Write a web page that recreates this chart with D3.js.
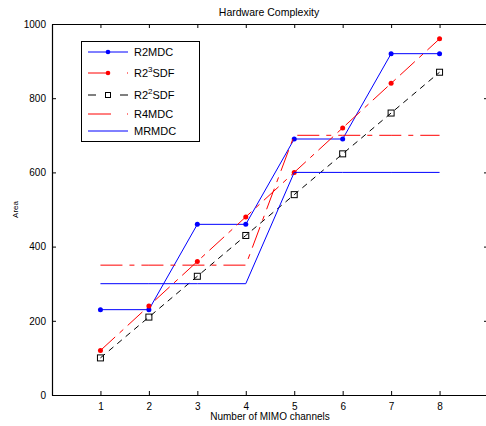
<!DOCTYPE html>
<html>
<head>
<meta charset="utf-8">
<script src="https://cdn.jsdelivr.net/npm/d3@7"></script>
<style>
body { margin: 0; background: #fff; }
svg { font-family: "Liberation Sans", Arial, sans-serif; }
</style>
</head>
<body>
<script>
var width = 486,
    height = 426;

// data
var channels = [1, 2, 3, 4, 5, 6, 7, 8];
var r2mdc   = [230, 230, 460, 460, 690, 690, 920, 920];
var r23sdf  = [120, 240, 360, 480, 600, 720, 840, 960];
var r22sdf  = [100, 210, 320, 430, 540, 650, 760, 870];
var r4mdc   = [350, 350, 350, 350, 700, 700, 700, 700];
var mrmdc   = [300, 300, 300, 300, 600, 600, 600, 600];
var yTicks  = [0, 200, 400, 600, 800, 1000];

var series = [
    {name: "R2MDC", sup: null, values: r2mdc, color: "#0000ff", dash: null, marker: "dot", legDash: null},
    {name: "R2", sup: "3", rest: "SDF", values: r23sdf, color: "#ff0000", dash: "20,6,5,6", marker: "dot", legDash: "22,17,1,40"},
    {name: "R2", sup: "2", rest: "SDF", values: r22sdf, color: "#000000", dash: "6,5", marker: "square", legDash: "8,24,8,40"},
    {name: "R4MDC", sup: null, values: r4mdc, color: "#ff0000", dash: "22,7,5,7", marker: null, legDash: "23,16,1,40"},
    {name: "MRMDC", sup: null, values: mrmdc, color: "#0000ff", dash: null, marker: null, legDash: null}
];

// plot box edges (the right edge falls just outside the window)
var pLeft = 52, pRight = 488, pTop = 24, pBottom = 395;

var svg = d3.select("body").append("svg")
    .attr("width", width)
    .attr("height", height)

var x = d3.scaleLinear().domain([0, 9]).range([pLeft, pRight]);
var y = d3.scaleLinear().domain([0, 1000]).range([pBottom, pTop]);

/* axes, MATLAB style: ticks pointing inward, box all round */
svg.append("g")
    .attr("transform", "translate(0," + pBottom + ")")
    .call(d3.axisBottom(x).tickValues(channels).tickSize(-4).tickPadding(8).tickSizeOuter(0))
    .call(function (g) { g.selectAll("text").attr("font-size", 10).attr("fill", "#000").attr("font-family", null); });

svg.append("g")
    .attr("transform", "translate(0," + pTop + ")")
    .call(d3.axisTop(x).tickValues(channels).tickSize(-4).tickFormat("").tickSizeOuter(0));

svg.append("g")
    .attr("transform", "translate(" + pLeft + ",0)")
    .call(d3.axisLeft(y).tickValues(yTicks).tickSize(-4).tickPadding(6).tickSizeOuter(0).tickFormat(d3.format("d")))
    .call(function (g) { g.selectAll("text").attr("font-size", 10).attr("fill", "#000").attr("font-family", null); });

svg.append("g")
    .attr("transform", "translate(" + pRight + ",0)")
    .call(d3.axisRight(y).tickValues(yTicks).tickSize(-4).tickFormat("").tickSizeOuter(0));

svg.selectAll(".domain").attr("stroke", "#000").attr("stroke-width", 1.2);
svg.selectAll(".tick line").attr("stroke", "#000");

/* title and labels */
svg.append("text")
    .attr("x", (pLeft + pRight) / 2 - 1)
    .attr("y", 16)
    .attr("text-anchor", "middle")
    .attr("font-size", 10.5)
    .text("Hardware Complexity")

svg.append("text")
    .attr("x", (pLeft + pRight) / 2)
    .attr("y", 420)
    .attr("text-anchor", "middle")
    .attr("font-size", 10)
    .text("Number of MIMO channels")

svg.append("text")
    .attr("transform", "translate(18," + ((pTop + pBottom) / 2) + ") rotate(-90)")
    .attr("text-anchor", "middle")
    .attr("font-size", 8)
    .text("Area")

/* lines */
var line = d3.line()
    .x(function (d, i) { return x(channels[i]) })
    .y(function (d) { return y(d) })

var plot = svg.append("g")

series.forEach(function (s) {
    plot.append("path")
        .datum(s.values)
        .attr("d", line)
        .attr("fill", "none")
        .attr("stroke", s.color)
        .attr("stroke-width", 1)
        .attr("stroke-dasharray", s.dash)

    if (s.marker === "dot") {
        plot.selectAll(null)
            .data(s.values)
            .enter().append("circle")
            .attr("cx", function (d, i) { return x(channels[i]) })
            .attr("cy", function (d) { return y(d) })
            .attr("r", 2.5)
            .attr("fill", s.color)
    } else if (s.marker === "square") {
        plot.selectAll(null)
            .data(s.values)
            .enter().append("rect")
            .attr("x", function (d, i) { return x(channels[i]) - 3 })
            .attr("y", function (d) { return y(d) - 3 })
            .attr("width", 6)
            .attr("height", 6)
            .attr("fill", "none")
            .attr("stroke", s.color)
    }
});

/* legend */
var legend = svg.append("g")

legend.append("rect")
    .attr("x", 81.5)
    .attr("y", 41.5)
    .attr("width", 118)
    .attr("height", 100)
    .attr("fill", "#fff")
    .attr("stroke", "#000")

var legY = [52, 73, 95, 114, 131];

var item = legend.selectAll("g.item")
    .data(series)
    .enter().append("g")
    .attr("class", "item")
    .attr("transform", function (d, i) { return "translate(0," + legY[i] + ")" })

item.append("line")
    .attr("x1", 88).attr("x2", 128)
    .attr("stroke", function (d) { return d.color })
    .attr("stroke-dasharray", function (d) { return d.legDash })

item.filter(function (d) { return d.marker === "dot" })
    .append("circle")
    .attr("cx", 108).attr("r", 2.3)
    .attr("fill", function (d) { return d.color })

item.filter(function (d) { return d.marker === "square" })
    .append("rect")
    .attr("x", 105.5).attr("y", -2.5)
    .attr("width", 5).attr("height", 5)
    .attr("fill", "none")
    .attr("stroke", function (d) { return d.color })

var label = item.append("text")
    .attr("x", 134)
    .attr("y", 4)
    .attr("font-size", 11)

label.append("tspan").text(function (d) { return d.name })
label.filter(function (d) { return d.sup }).append("tspan")
    .attr("dy", -5).attr("font-size", 8)
    .text(function (d) { return d.sup })
label.filter(function (d) { return d.sup }).append("tspan")
    .attr("dy", 5)
    .text(function (d) { return d.rest })
</script>
</body>
</html>
